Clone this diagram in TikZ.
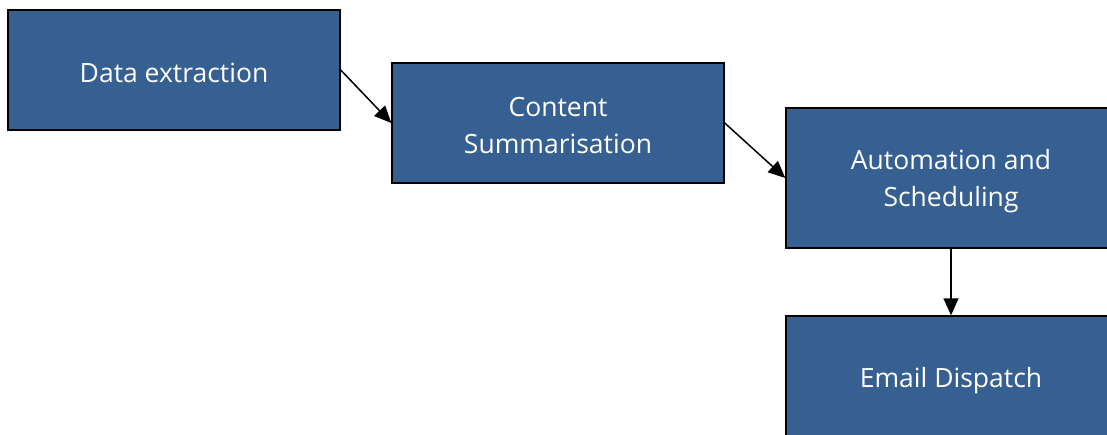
\documentclass[tikz,border=0pt]{standalone}
\usepackage{fontspec}
\setmainfont{Open Sans}
\usetikzlibrary{arrows.meta}
\definecolor{boxblue}{HTML}{376092}
\tikzset{
  box/.style={draw=black, line width=1.4pt, fill=boxblue, inner sep=0pt},
  lbl/.style={text=white, align=center, font=\fontsize{26.5}{37}\selectfont, inner sep=0pt},
  conn/.style={draw=black, line width=1.5pt, -{Triangle[length=17pt,width=15pt]}}
}
\begin{document}
\begin{tikzpicture}[x=1pt,y=-1pt]
\useasboundingbox (0,0) rectangle (1107,435);
\clip (0,0) rectangle (1107,435);
\fill[white] (0,0) rectangle (1107,435);
\node[box, minimum width=332pt, minimum height=120pt] (a) at (174,70) {};
\node[box, minimum width=332pt, minimum height=120pt] (b) at (558,123) {};
\node[box, minimum width=330pt, minimum height=140pt] (c) at (951,178) {};
\node[box, minimum width=330pt, minimum height=124pt] (d) at (951,378) {};
\node[lbl] (al) at ([yshift=-2.5pt]a.center) {Data extraction};
\node[lbl] (bl) at ([yshift=-2.5pt]b.center) {Content\\Summarisation};
\node[lbl] (cl) at ([yshift=-3pt]c.center) {Automation and\\Scheduling};
\node[lbl] (dl) at ([yshift=-2.5pt]d.center) {Email Dispatch};
\draw[conn] (a.east) -- (b.west);
\draw[conn] (b.east) -- (c.west);
\draw[conn] (c.south) -- (d.north);
\end{tikzpicture}
\end{document}
